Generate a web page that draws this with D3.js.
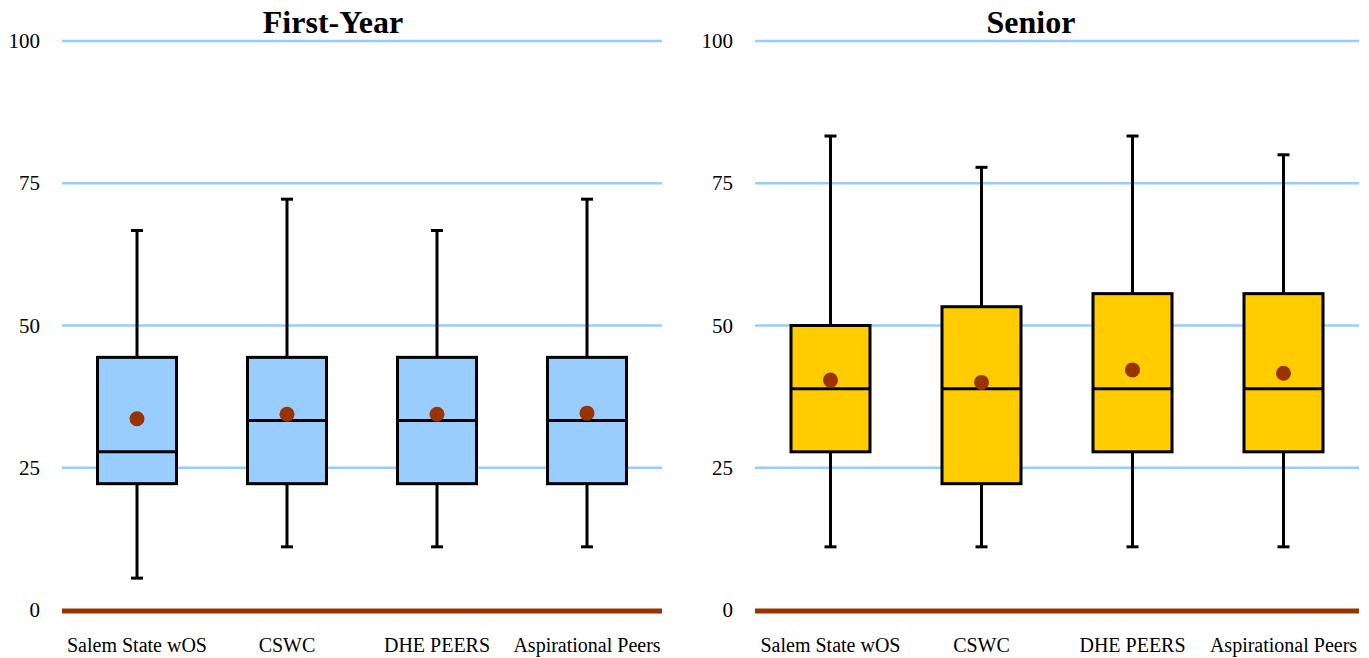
<!DOCTYPE html>
<html>
<head>
<meta charset="utf-8">
<script src="https://cdn.jsdelivr.net/npm/d3@7"></script>
<style>
  body { margin: 0; background: #fff; }
  text { font-family: "Liberation Serif", "Times New Roman", serif; }
</style>
</head>
<body>
<svg id="chart" width="1369" height="658"></svg>
<script>
// categories + tick values
const groups = ['Salem State wOS', 'CSWC', 'DHE PEERS', 'Aspirational Peers'];
const yTicks = [0, 25, 50, 75, 100];

// First-Year box stats
const fyMin = [5.6, 11.1, 11.1, 11.1];
const fyQ1 = [22.2, 22.2, 22.2, 22.2];
const fyMedian = [27.8, 33.3, 33.3, 33.3];
const fyQ3 = [44.4, 44.4, 44.4, 44.4];
const fyMax = [66.7, 72.2, 66.7, 72.2];
const fyMean = [33.6, 34.4, 34.4, 34.6];

// Senior box stats
const srMin = [11.1, 11.1, 11.1, 11.1];
const srQ1 = [27.8, 22.2, 27.8, 27.8];
const srMedian = [38.9, 38.9, 38.9, 38.9];
const srQ3 = [50.0, 53.3, 55.6, 55.6];
const srMax = [83.3, 77.8, 83.3, 80.0];
const srMean = [40.4, 40.0, 42.2, 41.6];

// colors
const GRID = '#99CCFF';
const AXIS = '#993300';
const DOT = '#993300';
const BLACK = '#000000';

const svg = d3.select('#chart');

/**
 * draws one box plot panel
 */
function panel(opts) {
    const rows = groups.map((g, i) => ({
        name: g,
        min: opts.min[i], q1: opts.q1[i], med: opts.med[i],
        q3: opts.q3[i], max: opts.max[i], mean: opts.mean[i]
    }));

    const x = d3.scaleBand().domain(groups).range([opts.x0, opts.x1]);
    const y = d3.scaleLinear().domain([0, 100]).range([610, 41]);
    const bw = 79;

    const g = svg.append('g');

    // gridlines (skip 0, that's the axis line)
    g.selectAll('.grid')
        .data(yTicks.filter(t => t > 0))
        .join('line')
        .attr('x1', opts.x0).attr('x2', opts.x1)
        .attr('y1', y).attr('y2', y)
        .attr('stroke', GRID)
        .attr('stroke-width', 2.5);

    // y labels
    g.selectAll('.ylab')
        .data(yTicks)
        .join('text')
        .attr('x', opts.x0 - 22)
        .attr('y', d => y(d) + 7)
        .attr('text-anchor', 'end')
        .style('font-size', '21px')
        .text(d => d);

    // bottom axis line
    g.append('line')
        .attr('x1', opts.x0).attr('x2', opts.x1)
        .attr('y1', y(0) + 1).attr('y2', y(0) + 1)
        .attr('stroke', AXIS)
        .attr('stroke-width', 5);

    // category labels
    g.selectAll('.xlab')
        .data(groups)
        .join('text')
        .attr('x', d => x(d) + x.bandwidth() / 2)
        .attr('y', 652)
        .attr('text-anchor', 'middle')
        .style('font-size', '20px')
        .text(d => d);

    const b = g.selectAll('.box').data(rows).join('g');
    const cx = d => x(d.name) + x.bandwidth() / 2;

    // whisker line
    b.append('line')
        .attr('x1', cx).attr('x2', cx)
        .attr('y1', d => y(d.min)).attr('y2', d => y(d.max))
        .attr('stroke', BLACK).attr('stroke-width', 3);

    // whisker caps
    ['min', 'max'].forEach(k => {
        b.append('line')
            .attr('x1', d => cx(d) - 6).attr('x2', d => cx(d) + 6)
            .attr('y1', d => y(d[k])).attr('y2', d => y(d[k]))
            .attr('stroke', BLACK).attr('stroke-width', 3);
    });

    // box
    b.append('rect')
        .attr('x', d => cx(d) - bw / 2)
        .attr('y', d => y(d.q3))
        .attr('width', bw)
        .attr('height', d => y(d.q1) - y(d.q3))
        .attr('fill', opts.fill)
        .attr('stroke', BLACK).attr('stroke-width', 3);

    // median
    b.append('line')
        .attr('x1', d => cx(d) - bw / 2).attr('x2', d => cx(d) + bw / 2)
        .attr('y1', d => y(d.med)).attr('y2', d => y(d.med))
        .attr('stroke', BLACK).attr('stroke-width', 3);

    // mean dot
    b.append('circle')
        .attr('cx', cx)
        .attr('cy', d => y(d.mean))
        .attr('r', 7.5)
        .attr('fill', DOT);

    // title
    g.append('text')
        .attr('x', opts.titleX)
        .attr('y', 33)
        .attr('text-anchor', 'middle')
        .style('font-size', '32px')
        .style('font-weight', 'bold')
        .text(opts.title);
}

panel({ title: 'First-Year', titleX: 333, x0: 62, x1: 662, fill: '#99CCFF',
    min: fyMin, q1: fyQ1, med: fyMedian, q3: fyQ3, max: fyMax, mean: fyMean });
panel({ title: 'Senior', titleX: 1031, x0: 755, x1: 1359, fill: '#FFCC00',
    min: srMin, q1: srQ1, med: srMedian, q3: srQ3, max: srMax, mean: srMean });
</script>
</body>
</html>
